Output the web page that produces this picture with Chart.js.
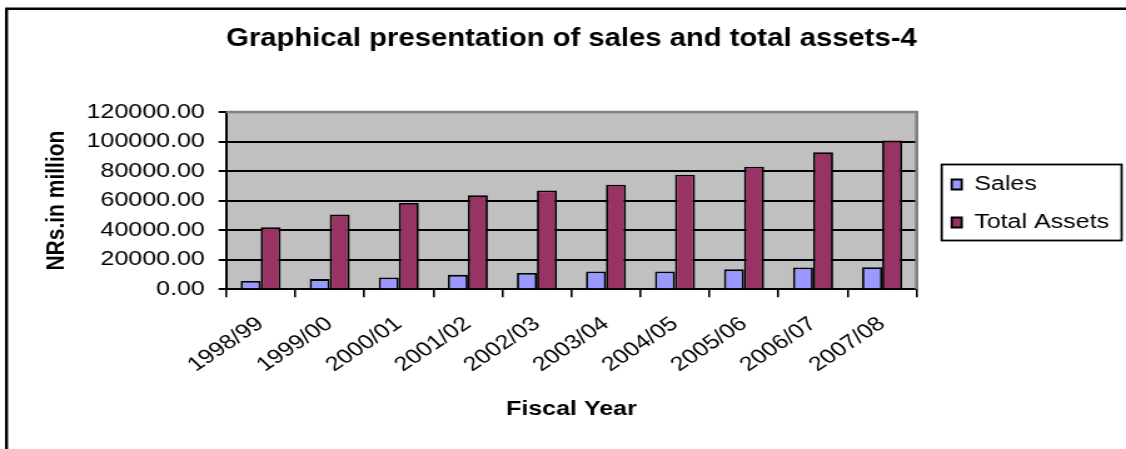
<!DOCTYPE html>
<html lang="en">
<head>
    <meta charset="UTF-8">
    <title>Graphical presentation of sales and total assets-4</title>
    <script src="https://cdn.jsdelivr.net/npm/chart.js"></script>
    <style>
        html, body {
            margin: 0;
            padding: 0;
            background: #fff;
            overflow: hidden;
        }
        #salesChart {
            display: block;
        }
    </style>
</head>
<body>
    <!-- drawn at 900 wide and stretched sideways, like the original picture -->
    <canvas id="salesChart" width="900" height="449" style="width:1126px;height:449px"></canvas>

    <script>
        // Data (NRs. in million)
        const fiscalYears = ['1998/99', '1999/00', '2000/01', '2001/02', '2002/03',
                             '2003/04', '2004/05', '2005/06', '2006/07', '2007/08'];
        const sales = [5500, 6800, 7900, 9700, 10900, 12000, 12000, 13400, 14700, 14900];
        const totalAssets = [42000, 50500, 58400, 63600, 66800, 70700, 77500, 82900, 92800, 100700];
        const yTicks = [0, 20000, 40000, 60000, 80000, 100000, 120000];

        Chart.defaults.font.family = "'Liberation Sans', Arial, sans-serif";
        Chart.defaults.color = '#000';

        // keeps a small gap between the plot and the legend
        const legendGap = {
            id: 'legendGap',
            beforeInit(chart) {
                Chart.layouts.addBox(chart, {
                    position: 'right',
                    weight: 500,
                    fullSize: false,
                    options: { display: false },
                    width: 0,
                    height: 0,
                    isHorizontal() { return false; },
                    update(maxWidth, maxHeight) {
                        this.width = 10;
                        this.height = maxHeight;
                    },
                    draw() {}
                });
            },
            afterLayout(chart) {
                // nudge the legend up a little
                chart.legend.top -= 7;
                chart.legend.bottom -= 7;
            }
        };

        // grey plot background, outer frame, plot frame and legend box
        const plotFrame = {
            id: 'plotFrame',
            beforeDraw(chart) {
                const { ctx, chartArea: a } = chart;
                ctx.save();
                ctx.fillStyle = '#c0c0c0';
                ctx.fillRect(a.left, a.top, a.width, a.height);
                ctx.strokeStyle = '#000';
                ctx.lineWidth = 2.4;
                ctx.beginPath();
                ctx.moveTo(5.2, chart.height + 5);
                ctx.lineTo(5.2, 8.7);
                ctx.lineTo(chart.width + 5, 8.7);
                ctx.stroke();
                ctx.restore();
            },
            beforeDatasetsDraw(chart) {
                const { ctx, chartArea: a } = chart;
                ctx.save();
                ctx.strokeStyle = '#808080';
                ctx.lineWidth = 2.6;
                ctx.beginPath();
                ctx.moveTo(a.left, a.top);
                ctx.lineTo(a.right, a.top);
                ctx.lineTo(a.right, a.bottom);
                ctx.stroke();
                ctx.restore();
            },
            afterDraw(chart) {
                const hb = chart.legend.legendHitBoxes;
                if (!hb || !hb.length) return;
                const left = Math.min(...hb.map(b => b.left)) - 8;
                const right = Math.max(...hb.map(b => b.left + b.width)) + 10;
                const top = hb[0].top - 10;
                const last = hb[hb.length - 1];
                const bottom = last.top + last.height + 8;
                const ctx = chart.ctx;
                ctx.save();
                ctx.strokeStyle = '#000';
                ctx.lineWidth = 1.8;
                ctx.strokeRect(left, top, right - left, bottom - top);
                ctx.restore();
            }
        };

        new Chart(document.getElementById('salesChart'), {
            type: 'bar',
            data: {
                labels: fiscalYears,
                datasets: [{
                    label: 'Sales',
                    data: sales,
                    backgroundColor: '#9999ff',
                    borderColor: '#000',
                    borderWidth: 1.8
                }, {
                    label: 'Total Assets',
                    data: totalAssets,
                    backgroundColor: '#993366',
                    borderColor: '#000',
                    borderWidth: 1.8
                }]
            },
            options: {
                responsive: false,
                animation: false,
                devicePixelRatio: 1,
                layout: {
                    padding: { left: 33, right: 3.5, top: 0, bottom: 28 }
                },
                datasets: {
                    bar: { barPercentage: 1, categoryPercentage: 0.58 }
                },
                plugins: {
                    title: {
                        display: true,
                        fullSize: false,
                        text: 'Graphical presentation of sales and total assets-4',
                        color: '#000',
                        font: { size: 25, weight: 'bold' },
                        padding: { top: 24, bottom: 58 }
                    },
                    legend: {
                        position: 'right',
                        labels: {
                            color: '#000',
                            font: { size: 20 },
                            boxWidth: 8,
                            boxHeight: 10,
                            padding: 18
                        }
                    },
                    tooltip: { enabled: false }
                },
                scales: {
                    x: {
                        grid: {
                            display: true,
                            drawOnChartArea: false,
                            drawTicks: true,
                            tickLength: 8,
                            color: '#000',
                            lineWidth: 1.6
                        },
                        border: { display: true, color: '#000', width: 2 },
                        ticks: {
                            autoSkip: false,
                            minRotation: 40,
                            maxRotation: 40,
                            padding: 15,
                            color: '#000',
                            font: { size: 20 }
                        },
                        title: {
                            display: true,
                            text: 'Fiscal Year',
                            color: '#000',
                            font: { size: 20, weight: 'bold' },
                            padding: { top: 5, bottom: 0 }
                        }
                    },
                    y: {
                        min: yTicks[0],
                        max: yTicks[yTicks.length - 1],
                        grid: {
                            color: '#000',
                            lineWidth: 2,
                            tickLength: 6,
                            tickColor: '#000',
                            tickWidth: 2
                        },
                        border: { display: true, color: '#000', width: 2 },
                        afterBuildTicks(scale) {
                            scale.ticks = yTicks.map(v => ({ value: v }));
                        },
                        ticks: {
                            padding: 11,
                            color: '#000',
                            font: { size: 20 },
                            callback: v => Number(v).toFixed(2)
                        },
                        title: {
                            display: true,
                            text: 'NRs.in million',
                            color: '#000',
                            font: { size: 21, weight: 'bold' },
                            padding: { top: 0, bottom: 0 }
                        }
                    }
                }
            },
            plugins: [legendGap, plotFrame]
        });
    </script>
</body>
</html>
